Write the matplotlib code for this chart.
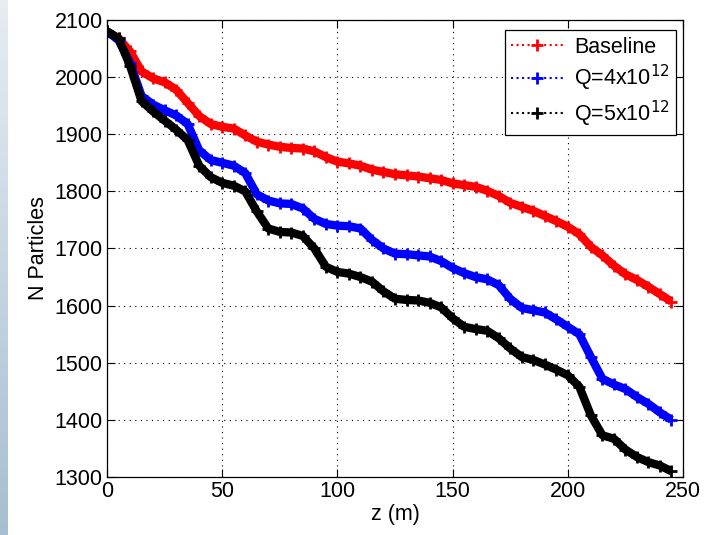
import numpy as np
import matplotlib
matplotlib.use('Agg')
import matplotlib.pyplot as plt
from matplotlib.lines import Line2D

plt.rcParams['font.family'] = ['Liberation Sans', 'DejaVu Sans']

# z positions (m), sampled every 5 m
z = [0, 5, 10, 15, 20, 25, 30, 35, 40, 45, 50, 55, 60, 65, 70, 75, 80, 85, 90, 95,
     100, 105, 110, 115, 120, 125, 130, 135, 140, 145, 150, 155, 160, 165, 170, 175,
     180, 185, 190, 195, 200, 205, 210, 215, 220, 225, 230, 235, 240, 245]

baseline = [2080, 2068, 2045, 2010, 1998, 1991, 1978, 1955, 1932, 1918, 1913, 1910,
            1898, 1887, 1882, 1878, 1876, 1875, 1870, 1860, 1852, 1849, 1845, 1838,
            1834, 1830, 1828, 1826, 1823, 1820, 1814, 1811, 1808, 1801, 1792, 1780,
            1773, 1766, 1757, 1748, 1738, 1725, 1703, 1688, 1670, 1655, 1645, 1633,
            1620, 1607]

q4 = [2080, 2065, 2025, 1967, 1952, 1942, 1933, 1918, 1872, 1855, 1850, 1845, 1832,
      1795, 1784, 1779, 1778, 1770, 1752, 1743, 1740, 1739, 1735, 1715, 1700, 1691,
      1690, 1688, 1686, 1678, 1666, 1657, 1650, 1646, 1636, 1612, 1596, 1592, 1588,
      1576, 1563, 1550, 1510, 1472, 1462, 1454, 1440, 1428, 1413, 1400]

q5 = [2080, 2068, 2020, 1958, 1940, 1924, 1908, 1890, 1845, 1825, 1815, 1810, 1800,
      1765, 1735, 1729, 1728, 1722, 1700, 1668, 1659, 1656, 1650, 1642, 1625, 1612,
      1610, 1609, 1605, 1597, 1578, 1563, 1559, 1556, 1543, 1525, 1510, 1505, 1497,
      1488, 1478, 1458, 1408, 1373, 1367, 1348, 1335, 1326, 1320, 1310]

labels = ['Baseline', r'Q=4x10$^{12}$', r'Q=5x10$^{12}$']
colors = ['#ff0000', '#0000ff', '#000000']

fs = 15.5

fig = plt.figure(figsize=(7.06, 5.35), dpi=100)

# bluish strip along the left edge
strip = fig.add_axes([0, 0, 8 / 706, 1])
grad = np.linspace(0, 1, 256).reshape(-1, 1)
strip.imshow(grad, aspect='auto', cmap=matplotlib.colors.LinearSegmentedColormap.from_list(
    'edge', ['#e6edf3', '#a7bed1']), extent=[0, 1, 0, 1])
strip.axis('off')

ax = fig.add_axes([107 / 706, 1 - 477 / 535, 576 / 706, 457 / 535])

for ys, c in zip([baseline, q4, q5], colors):
    ax.plot(z, ys, '-', color=c, lw=6, solid_capstyle='butt')
    ax.plot(z, ys, '+', color=c, ms=9, mew=2)

ax.set_xlim(0, 250)
ax.set_ylim(1300, 2100)
ax.set_xticks(np.arange(0, 251, 50))
ax.set_yticks(np.arange(1300, 2101, 100))
ax.grid(True, color='black', linestyle=(0, (1, 4)), linewidth=0.8)
ax.tick_params(direction='in', top=True, right=True, length=6, labelsize=fs, pad=3)
for s in ax.spines.values():
    s.set_linewidth(0.9)

ax.set_xlabel('z (m)', fontsize=fs, labelpad=1)
ax.set_ylabel('N Particles', fontsize=fs, labelpad=4)

handles = [Line2D([0], [0], color=c, ls=':', lw=1.5, marker='+', ms=9, mew=2)
           for c in colors]
leg = ax.legend(handles, labels, loc='upper right', fontsize=fs, fancybox=False,
                framealpha=1, edgecolor='black', handlelength=2.4, borderpad=0.3,
                labelspacing=0.25, handletextpad=0.5, borderaxespad=0,
                bbox_to_anchor=(0.988, 0.978))
leg.get_frame().set_linewidth(0.9)

fig.savefig('out.png', dpi=100)
